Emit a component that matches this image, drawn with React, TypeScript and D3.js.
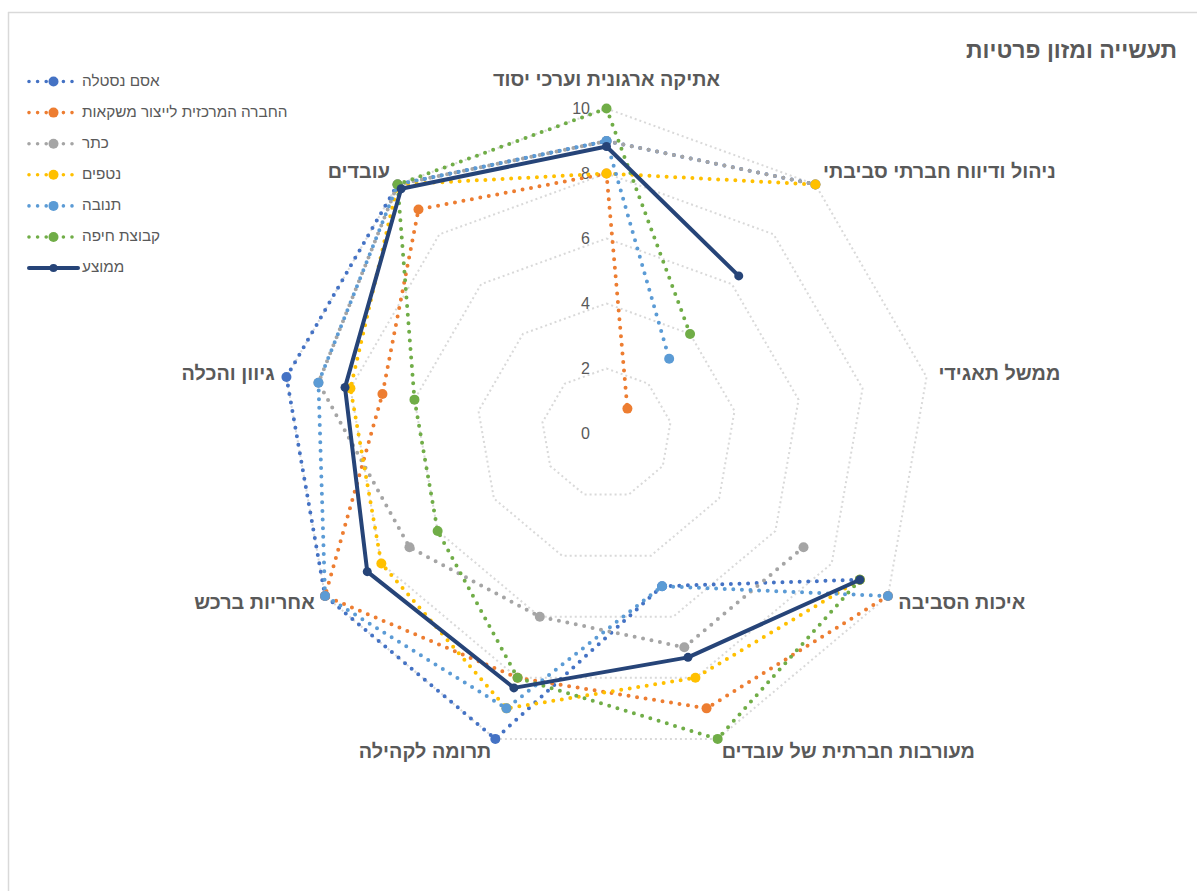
import React from 'react';
import * as d3 from 'd3';

const categories = [
  'אתיקה ארגונית וערכי יסוד',
  'ניהול ודיווח חברתי סביבתי',
  'ממשל תאגידי',
  'איכות הסביבה',
  'מעורבות חברתית של עובדים',
  'תרומה לקהילה',
  'אחריות ברכש',
  'גיוון והכלה',
  'עובדים',
];

const seriesNames = ['אסם נסטלה', 'החברה המרכזית לייצור משקאות', 'כתר', 'נטפים', 'תנובה', 'קבוצת חיפה', 'ממוצע'];
const seriesColors = ['#4472C4', '#ED7D31', '#A5A5A5', '#FFC000', '#5B9BD5', '#70AD47', '#264478'];

const osem = [9, 10, null, 9, 5, 10, 10, 10, 10];
const centralBottling = [8, 1, null, 10, 9, 8, 10, 7, 9];
const keter = [9, 10, null, 7, 7, 6, 7, 9, 10];
const netafim = [8, 10, null, 9, 8, 9, 8, 8, 10];
const tnuva = [9, 3, null, 10, 5, 9, 10, 9, 10];
const haifaGroup = [10, 4, null, 9, 10, 8, 6, 6, 10];
const average = [8.83, 6.33, null, 9, 7.33, 8.33, 8.5, 8.17, 9.83];

const seriesValues: (number | null)[][] = [osem, centralBottling, keter, netafim, tnuva, haifaGroup, average];

const ticks = [0, 2, 4, 6, 8, 10];
const title = 'תעשייה ומזון פרטיות';

const W = 1197;
const H = 891;
const cx = 606.5;
const cy = 433.5;
const textColor = '#595959';
const font = "'Liberation Sans', 'DejaVu Sans', sans-serif";

export default function App() {
  const r = d3.scaleLinear().domain([0, 10]).range([0, 325]);
  const angle = d3.scaleLinear().domain([0, categories.length]).range([0, 2 * Math.PI]);

  const pt = (i: number, v: number): [number, number] => {
    const a = angle(i);
    return [cx + r(v) * Math.sin(a), cy - r(v) * Math.cos(a)];
  };

  const ring = (v: number) => {
    const pts = categories.map((_, i) => pt(i, v));
    return d3.line().curve(d3.curveLinearClosed)(pts) || '';
  };

  // close the loop by revisiting the first category; empty values break the line
  const seriesPath = (vals: (number | null)[]) => {
    const idx = [...vals.map((_, i) => i), 0];
    return d3.line<number>()
      .defined(i => vals[i] != null)
      .x(i => pt(i, vals[i] as number)[0])
      .y(i => pt(i, vals[i] as number)[1])(idx) || '';
  };

  const legendY = d3.scaleLinear().domain([0, 1]).range([81.5, 112.6]);

  return (
    <>
      <style>{`body{margin:0}`}</style>
      <svg width={W} height={H} style={{ display: 'block', background: '#fff' }} fontFamily={font}>
        {/* chart border */}
        <line x1={8} y1={12.5} x2={W} y2={12.5} stroke="#D9D9D9" strokeWidth={1.5} />
        <line x1={8.5} y1={12} x2={8.5} y2={H} stroke="#D9D9D9" strokeWidth={1.5} />

        <text x={1177} y={52} textAnchor="end" dominantBaseline="middle" fontSize={23} fontWeight={700} fill={textColor}>
          {title}
        </text>

        {/* grid rings */}
        {ticks.filter(t => t > 0).map(t => (
          <path key={t} d={ring(t)} fill="none" stroke="#D9D9D9" strokeWidth={2} strokeDasharray="2,3" />
        ))}

        {/* tick labels */}
        {ticks.map(t => (
          <text key={t} x={590} y={cy - r(t) + 1} textAnchor="end" dominantBaseline="middle" fontSize={16} fill={textColor}>
            {t}
          </text>
        ))}

        {/* category labels */}
        {categories.map((c, i) => {
          const a = angle(i);
          const dx = Math.sin(a);
          const dy = -Math.cos(a);
          const [px, py] = pt(i, 10);
          const anchor = Math.abs(dx) < 0.01 ? 'middle' : dx > 0 ? 'start' : 'end';
          const x = px + dx * 12;
          const y = Math.abs(dx) < 0.01 ? py - 28 : py + dy * 15;
          return (
            <text key={c} x={x} y={y} textAnchor={anchor} dominantBaseline="middle" fontSize={19.8} fontWeight={700} fill={textColor}>
              {c}
            </text>
          );
        })}

        {/* series */}
        {seriesValues.map((vals, s) => {
          const isAvg = s === seriesValues.length - 1;
          const color = seriesColors[s];
          return (
            <g key={s}>
              <path
                d={seriesPath(vals)}
                fill="none"
                stroke={color}
                strokeWidth={4}
                strokeLinecap="round"
                strokeLinejoin="round"
                strokeDasharray={isAvg ? undefined : '0,8.6'}
              />
              {vals.map((v, i) => v == null ? null : (
                <circle key={i} cx={pt(i, v)[0]} cy={pt(i, v)[1]} r={isAvg ? 4.5 : 5} fill={color} />
              ))}
            </g>
          );
        })}

        {/* legend */}
        {seriesNames.map((n, s) => {
          const isAvg = s === seriesNames.length - 1;
          const y = legendY(s);
          const color = seriesColors[s];
          return (
            <g key={n}>
              <line x1={29} y1={y} x2={78} y2={y} stroke={color} strokeWidth={isAvg ? 4 : 3.6}
                strokeLinecap="round" strokeDasharray={isAvg ? undefined : '0,8.6'} />
              <circle cx={53.5} cy={y} r={isAvg ? 4 : 5} fill={color} />
              <text x={82} y={y} dominantBaseline="middle" fontSize={15.3} fill={textColor}>{n}</text>
            </g>
          );
        })}
      </svg>
    </>
  );
}
